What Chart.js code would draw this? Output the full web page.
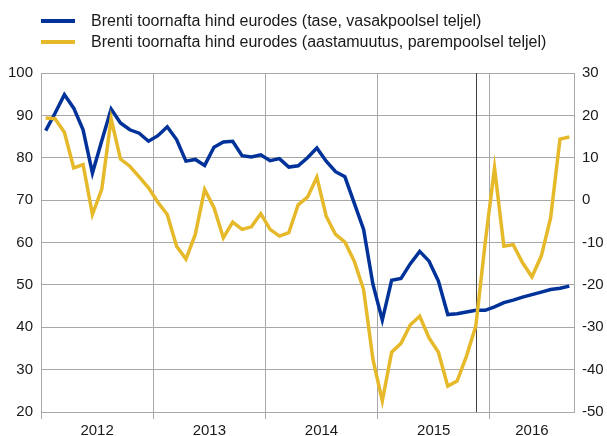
<!DOCTYPE html>
<html>
<head>
<meta charset="utf-8">
<script src="https://cdn.jsdelivr.net/npm/chart.js@4"></script>
<style>
    body { margin: 0; background: #fff; }
    .wrap { position: relative; width: 607px; height: 436px; }
    .legend { position: absolute; left: 41px; top: 10px; font: 16px "Liberation Sans", Arial, sans-serif; color: #1a1a1a; }
    .legend-row { display: flex; align-items: center; height: 21px; white-space: nowrap; }
    .legend-line { width: 34px; height: 4px; margin-right: 16px; }
</style>
</head>
<body>
<div class="wrap">
    <canvas id="oilChart" width="607" height="436"></canvas>
    <div class="legend" id="legend"></div>
</div>
<script>
// Brent crude in euros, monthly Jan 2012 - Sep 2016
const years = ["2012", "2013", "2014", "2015", "2016"];

// level, left axis
const brentLevel = [
    86.4, 90.5, 94.9, 91.7, 86.6, 76.4, 84.0, 91.5, 88.2, 86.6, 85.8, 83.9,
    85.2, 87.3, 84.3, 79.2, 79.6, 78.2, 82.5, 83.7, 83.9, 80.5, 80.2, 80.7,
    79.3, 79.8, 77.8, 78.1, 80.0, 82.3, 79.2, 76.7, 75.5, 69.3, 63.1, 50.1,
    41.7, 51.1, 51.5, 55.0, 57.9, 55.6, 50.9, 43.0, 43.2, 43.6, 44.0, 44.0,
    44.8, 45.8, 46.4, 47.1, 47.7, 48.3, 48.9, 49.2, 49.7
];

// annual change, right axis
const brentChange = [
    19.4, 19.2, 16.0, 7.6, 8.4, -3.4, 2.6, 19.2, 9.7, 8.0, 5.5, 2.9,
    -0.5, -3.4, -10.9, -13.9, -8.1, 2.5, -1.8, -8.9, -5.2, -6.9, -6.3, -3.2,
    -6.9, -8.5, -7.7, -1.1, 0.7, 5.4, -3.8, -8.1, -9.9, -14.4, -21.1, -37.6,
    -47.4, -35.9, -33.8, -29.4, -27.4, -32.5, -35.9, -43.9, -42.7, -36.8, -29.7, -10.1,
    7.6, -10.9, -10.5, -14.8, -18.1, -13.2, -4.2, 14.4, 14.9
];

const levelRange = [20, 100];
const changeRange = [-50, 30];
const forecastMonth = 46; // Nov 2015

const seriesNames = [
    "Brenti toornafta hind eurodes (tase, vasakpoolsel teljel)",
    "Brenti toornafta hind eurodes (aastamuutus, parempoolsel teljel)"
];
const colors = ["#003299", "#e6b92a"];
const gridColor = "#a8a8a8";

const monthCount = brentLevel.length;
const toPoints = (arr) => arr.map((v, i) => ({ x: i + 0.5, y: v }));

// year boundaries get grid lines, year midpoints get labels
const yearLabels = {};
const xTicks = [];
years.forEach((y, i) => {
    const start = i * 12;
    const end = Math.min(start + 12, monthCount);
    xTicks.push(start, (start + end) / 2);
    yearLabels[(start + end) / 2] = y;
});
xTicks.push(monthCount);

// legend
const legend = document.getElementById("legend");
seriesNames.forEach((name, i) => {
    const row = document.createElement("div");
    row.className = "legend-row";
    row.innerHTML = `<span class="legend-line" style="background:${colors[i]}"></span><span>${name}</span>`;
    legend.appendChild(row);
});

// dark vertical marker where the futures part begins
const forecastLine = {
    id: "forecastLine",
    beforeDatasetsDraw(chart) {
        const { ctx, chartArea, scales } = chart;
        const x = Math.round(scales.x.getPixelForValue(forecastMonth + 0.5)) + 0.5;
        ctx.save();
        ctx.strokeStyle = "#404040";
        ctx.lineWidth = 1;
        ctx.beginPath();
        ctx.moveTo(x, chartArea.top);
        ctx.lineTo(x, chartArea.bottom);
        ctx.stroke();
        ctx.restore();
    },
};

Chart.defaults.font.family = '"Liberation Sans", Arial, sans-serif';
Chart.defaults.font.size = 15;
Chart.defaults.color = "#1a1a1a";

const ctx = document.getElementById("oilChart").getContext("2d");
const oilChart = new Chart(ctx, {
    type: "line",
    data: {
        datasets: [
            {
                label: seriesNames[0],
                data: toPoints(brentLevel),
                yAxisID: "y",
                borderColor: colors[0],
                backgroundColor: colors[0],
                borderWidth: 3.5,
                pointRadius: 0,
                tension: 0,
                order: 1,
            },
            {
                label: seriesNames[1],
                data: toPoints(brentChange),
                yAxisID: "y2",
                borderColor: colors[1],
                backgroundColor: colors[1],
                borderWidth: 3.5,
                pointRadius: 0,
                tension: 0,
                order: 0,
            },
        ],
    },
    options: {
        responsive: false,
        animation: false,
        layout: { padding: { top: 73, left: 0, right: 0, bottom: 0 } },
        plugins: {
            legend: { display: false },
            tooltip: { enabled: false },
        },
        scales: {
            x: {
                type: "linear",
                min: 0,
                max: monthCount,
                afterBuildTicks: (scale) => {
                    scale.ticks = xTicks.map((v) => ({ value: v }));
                },
                afterFit: (scale) => {
                    scale.height = 24;
                },
                grid: {
                    color: (c) => (c.tick && c.tick.value % 12 === 0 && c.tick.value < monthCount ? gridColor : "transparent"),
                    tickLength: 7,
                },
                border: { display: false },
                ticks: {
                    autoSkip: false,
                    maxRotation: 0,
                    padding: 3,
                    callback: (v) => yearLabels[v] || "",
                },
            },
            y: {
                position: "left",
                min: levelRange[0],
                max: levelRange[1],
                afterFit: (scale) => {
                    scale.width = 41;
                },
                ticks: { stepSize: 10, padding: 8 },
                grid: { color: gridColor, drawTicks: false },
                border: { display: true, color: gridColor },
            },
            y2: {
                position: "right",
                min: changeRange[0],
                max: changeRange[1],
                afterFit: (scale) => {
                    scale.width = 33;
                },
                ticks: { stepSize: 10, padding: 8 },
                grid: { display: false, drawTicks: false },
                border: { display: true, color: gridColor },
            },
        },
    },
    plugins: [forecastLine],
});
</script>
</body>
</html>
